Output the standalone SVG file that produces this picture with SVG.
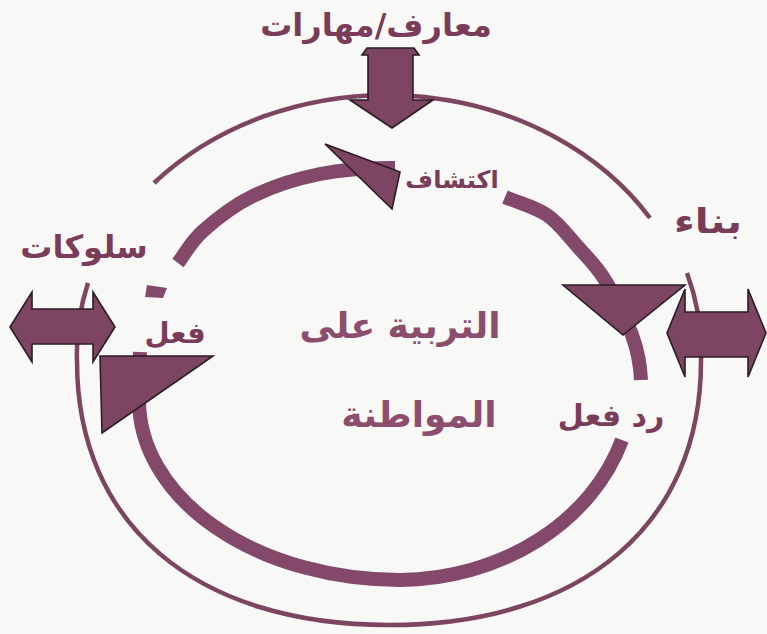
<svg xmlns="http://www.w3.org/2000/svg" width="767" height="634" viewBox="0 0 767 634">
<style>
.thin{fill:none;stroke:#7e4560;stroke-width:4.5}
.thick{fill:none;stroke:#84496a;stroke-width:14;stroke-linecap:butt}
.shape{fill:#7d4561;stroke:#2b1d25;stroke-width:1.6;stroke-linejoin:miter}
.lbl{font-family:"DejaVu Sans",sans-serif;font-weight:bold;fill:#7a3c59;text-anchor:middle}
.ctr{font-family:"DejaVu Sans",sans-serif;font-weight:bold;fill:#8d4e6e;text-anchor:middle}
</style>
<rect width="767" height="634" fill="#f8f8f6"/>
<g id="connectors">
<path class="thin" d="M154,183 A312,264 0 0 1 650,218"/>
<path class="thin" d="M687,273 A312,264 0 0 1 701,361 C701,524.7 582.4,625 389,625 C195.6,625 77,524.7 77,361 A312,264 0 0 1 88,283"/>
<path class="thick" d="M178,263 C185.7,252.8 190.5,242.2 203,231 C215.5,219.8 233.5,205.5 253,196 C272.5,186.5 296.3,178.7 320,174 C343.7,169.3 371.7,167.7 395,168"/>
<path class="thick" d="M505,197 C519.5,203.2 534.8,206.7 547,215 C559.2,223.3 568.3,236.2 578,247 C587.7,257.8 596,265.3 605,280 C614,294.7 626,318.8 632,335 C638,351.2 640.3,363.7 641,380"/>
<path class="thick" d="M622,440 A236,200 0 0 1 400,580 A261,180 0 0 1 139,400 C139,385 139.5,368 140,352"/>
<polygon points="147,285 167,288 163,298 145,297" fill="#84496a"/>
<polygon id="arrow-top" class="shape" points="368,55 362,55 367,48 414,48 419,55 413,55 413,100 433,100 392,128 350,100 368,100"/>
<polygon id="arrow-left" class="shape" points="10,327 32,292 32,309 93,309 93,292 115,327 93,362 93,344 32,344 32,362"/>
<polygon id="arrow-right" class="shape" points="667,333 685,289 685,312 748,312 748,289 766,333 748,377 748,357 685,357 685,377"/>
<polygon id="head-top" class="shape" points="325,144 400,172 392,209"/>
<polygon id="head-right" class="shape" points="563,285 685,285 623,335"/>
<polygon id="head-left" class="shape" points="100,356 213,356 102,433"/>
</g>
<g id="node-knowledge"><text class="lbl" x="376" y="36" font-size="32" direction="rtl">معارف/مهارات</text></g>
<g id="node-behaviours"><text class="lbl" x="84" y="258" font-size="32" direction="rtl">سلوكات</text></g>
<g id="node-building"><text class="lbl" x="708" y="233" font-size="34" direction="rtl" textLength="68" lengthAdjust="spacingAndGlyphs">بناء</text></g>
<g id="node-action"><text class="lbl" x="175" y="343" font-size="29" direction="rtl">فعل</text></g>
<g id="node-discovery"><text class="lbl" x="452" y="188" font-size="24" direction="rtl">اكتشاف</text></g>
<g id="node-reaction"><text class="lbl" x="611" y="426" font-size="30" direction="rtl">رد فعل</text></g>
<g id="node-centre">
<text class="ctr" x="400" y="338" font-size="36" direction="rtl">التربية على</text>
<text class="ctr" x="419" y="427" font-size="36" direction="rtl">المواطنة</text>
</g>
</svg>
